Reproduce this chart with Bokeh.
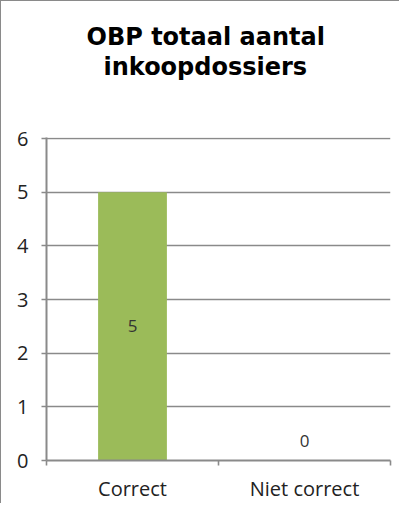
from bokeh.plotting import figure
from bokeh.models import FixedTicker, ColumnDataSource, Range1d, Title
from bokeh.core.properties import value
from bokeh.embed import file_html
from bokeh.resources import INLINE

title_lines = ["OBP totaal aantal", "inkoopdossiers"]
categories = ["Correct", "Niet correct"]
counts = [5, 0]
y_ticks = [0, 1, 2, 3, 4, 5, 6]

xs = [i + 0.5 for i in range(len(categories))]
label_y = [v / 2 for v in counts]
label_off = [0 if v > 0 else -20 for v in counts]

src = ColumnDataSource(dict(x=xs, top=counts, ly=label_y, loff=label_off,
                            txt=[str(v) for v in counts]))

p = figure(width=399, height=503, output_backend="svg", toolbar_location=None,
           x_range=Range1d(0, len(categories)), y_range=Range1d(0, 6.02),
           min_border_left=45, min_border_right=10, min_border_bottom=41,
           min_border_top=136)
p.styles = {"border-left": "1px solid #8a8a8a", "border-top": "1px solid #8a8a8a"}
p.outline_line_color = None
p.background_fill_color = "white"
p.border_fill_color = "white"
p.title.visible = False

# spacer between the plot frame and the title lines
p.add_layout(Title(text=" ", standoff=54, text_font_size="1px"), "above")
title_offsets = [40, 57]
for line, off in reversed(list(zip(title_lines, title_offsets))):
    p.add_layout(Title(text=line, align="left", offset=off, standoff=0,
                       text_font="DejaVu Sans", text_font_style="bold",
                       text_font_size="24px", text_color="#000000"), "above")

p.vbar(x="x", top="top", width=0.4, source=src, fill_color="#9BBB59",
       line_color=None)
p.text(x="x", y="ly", text="txt", y_offset="loff", source=src,
       text_align="center", text_baseline="middle",
       text_font=value("Open Sans"), text_font_size="17px", text_color="#333333")

p.xgrid.visible = False
p.ygrid.ticker = FixedTicker(ticks=y_ticks)
p.ygrid.grid_line_color = "#8a8a8a"
p.ygrid.grid_line_width = 1.6

p.yaxis.ticker = FixedTicker(ticks=y_ticks)
p.yaxis.axis_line_color = "#8a8a8a"
p.yaxis.axis_line_width = 2
p.yaxis.major_tick_line_color = "#8a8a8a"
p.yaxis.major_tick_line_width = 1.6
p.yaxis.major_tick_out = 5
p.yaxis.major_tick_in = 0
p.yaxis.minor_tick_line_color = None
p.yaxis.major_label_text_font = "Open Sans"
p.yaxis.major_label_text_font_size = "20px"
p.yaxis.major_label_text_color = "#222222"
p.yaxis.major_label_standoff = 13

p.xaxis.ticker = FixedTicker(ticks=xs, minor_ticks=list(range(len(categories) + 1)))
p.xaxis.major_label_overrides = {x: c for x, c in zip(xs, categories)}
p.xaxis.axis_line_color = "#8a8a8a"
p.xaxis.axis_line_width = 2
p.xaxis.major_tick_line_color = None
p.xaxis.minor_tick_line_color = "#8a8a8a"
p.xaxis.minor_tick_line_width = 1.6
p.xaxis.minor_tick_out = 5
p.xaxis.minor_tick_in = 0
p.xaxis.major_label_text_font = "Open Sans"
p.xaxis.major_label_text_font_size = "20px"
p.xaxis.major_label_text_color = "#222222"
p.xaxis.major_label_standoff = 8

open("out.html", "w").write(file_html(p, INLINE))
